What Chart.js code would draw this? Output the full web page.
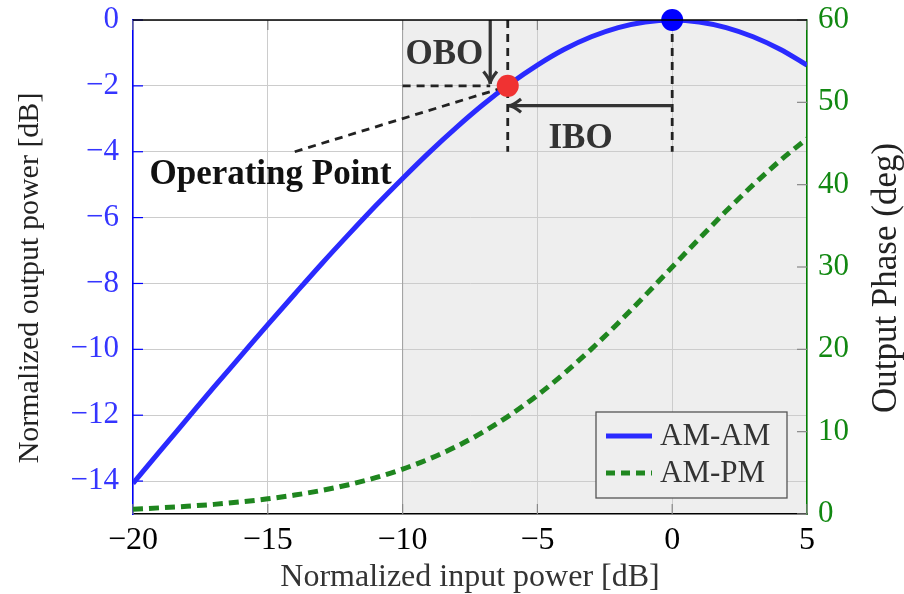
<!DOCTYPE html>
<html>
<head>
<meta charset="utf-8">
<script src="https://cdn.jsdelivr.net/npm/chart.js@4.4.1/dist/chart.umd.min.js"></script>
<style>
  html, body { margin: 0; padding: 0; background: #fff; }
  .chart-container { width: 904px; height: 594px; position: relative; }
</style>
</head>
<body>
<div class="chart-container"><canvas id="amChart"></canvas></div>
<script>
// input power (dB) and the two curves
const inputDb = [-20, -19, -18, -17, -16, -15, -14, -13, -12, -11, -10, -9, -8, -7, -6, -5, -4, -3, -2, -1, 0, 1, 2, 3, 4, 5];
const amAm = [-14.07, -13.09, -12.12, -11.15, -10.20, -9.25, -8.32, -7.40, -6.51, -5.64, -4.81, -4.01, -3.26, -2.56, -1.93, -1.37, -0.89, -0.51, -0.23, -0.06, 0, -0.06, -0.23, -0.51, -0.89, -1.37];
const amPm = [0.59, 0.75, 0.94, 1.17, 1.47, 1.84, 2.30, 2.86, 3.56, 4.42, 5.45, 6.71, 8.21, 9.98, 12.05, 14.42, 17.09, 20.03, 23.21, 26.56, 30.0, 33.44, 36.79, 39.97, 42.92, 45.59];

const seriesNames = ['AM-AM', 'AM-PM'];
const operatingPoint = [{ x: -6.1, y: -2 }];
const saturationPoint = [{ x: 0, y: 0 }];

// annotation anchors, in data units
const shadeFromX = -10;
const oboArrowX = -6.75;
const iboArrowY = -2.6;
const guideBottomY = -4;
const labelLineStart = { x: -14, y: -4 };
const labelLineEnd = { x: -6.45, y: -2.1 };
const oboText = { x: -8.45, y: -1.05, text: 'OBO' };
const iboText = { x: -3.4, y: -3.6, text: 'IBO' };
const opText = { x: -14.9, y: -4.7, text: 'Operating Point' };
const leftTitle = 'Normalized output power [dB]';
const rightTitle = 'Output Phase (deg)';

const blue = '#2a2aff';
const green = '#1f861f';
const serif = "'Liberation Serif', serif";

function minusFmt(v) {
  return v < 0 ? '\u2212' + Math.abs(v) : '' + v;
}

function arrowHead(ctx, x, y, ang) {
  const len = 14, spread = 0.5;
  ctx.beginPath();
  ctx.moveTo(x - len * Math.cos(ang - spread), y - len * Math.sin(ang - spread));
  ctx.quadraticCurveTo(x - 4 * Math.cos(ang), y - 4 * Math.sin(ang), x, y);
  ctx.quadraticCurveTo(x - 4 * Math.cos(ang), y - 4 * Math.sin(ang), x - len * Math.cos(ang + spread), y - len * Math.sin(ang + spread));
  ctx.stroke();
}

function vTitle(ctx, text, x, y, size) {
  ctx.save();
  ctx.translate(x, y);
  ctx.rotate(-Math.PI / 2);
  ctx.font = size + "px " + serif;
  ctx.fillStyle = '#222';
  ctx.textAlign = 'center';
  ctx.textBaseline = 'middle';
  ctx.fillText(text, 0, 0);
  ctx.restore();
}

function fixWidth(w) {
  return s => { s.width = w; s.paddingTop = 0; s.paddingBottom = 0; };
}

const decorPlugin = {
  id: 'decor',
  beforeDraw(chart) {
    const ctx = chart.ctx, ca = chart.chartArea, xs = chart.scales.x;
    ctx.save();
    ctx.fillStyle = '#eeeeee';
    const x0 = xs.getPixelForValue(shadeFromX);
    ctx.fillRect(x0, ca.top, ca.right - x0, ca.bottom - ca.top);
    ctx.restore();
  },
  beforeDatasetsDraw(chart) {
    const ctx = chart.ctx, ca = chart.chartArea;
    const xs = chart.scales.x, ys = chart.scales.y, y2 = chart.scales.y2;
    const px = v => xs.getPixelForValue(v), py = v => ys.getPixelForValue(v);
    ctx.save();
    // boundary of shaded region
    ctx.strokeStyle = '#a0a0a0';
    ctx.lineWidth = 1;
    ctx.beginPath();
    ctx.moveTo(px(shadeFromX), ca.top);
    ctx.lineTo(px(shadeFromX), ca.bottom);
    ctx.stroke();

    // inner tick marks
    ctx.lineWidth = 1.2;
    ctx.strokeStyle = '#888';
    xs.ticks.forEach(t => {
      const x = px(t.value);
      ctx.beginPath();
      ctx.moveTo(x, ca.bottom); ctx.lineTo(x, ca.bottom - 10);
      ctx.moveTo(x, ca.top); ctx.lineTo(x, ca.top + 10);
      ctx.stroke();
    });
    y2.ticks.forEach(t => {
      const y = y2.getPixelForValue(t.value);
      ctx.beginPath();
      ctx.moveTo(ca.right, y); ctx.lineTo(ca.right - 10, y);
      ctx.stroke();
    });
    ctx.strokeStyle = '#0000ff';
    ys.ticks.forEach(t => {
      const y = py(t.value);
      ctx.beginPath();
      ctx.moveTo(ca.left, y); ctx.lineTo(ca.left + 10, y);
      ctx.stroke();
    });

    // dashed guides
    ctx.strokeStyle = '#222';
    ctx.lineWidth = 2.8;
    ctx.setLineDash([8, 6]);
    ctx.beginPath();
    ctx.moveTo(px(shadeFromX), py(operatingPoint[0].y));
    ctx.lineTo(px(oboArrowX), py(operatingPoint[0].y));
    ctx.moveTo(px(operatingPoint[0].x), ca.top);
    ctx.lineTo(px(operatingPoint[0].x), py(guideBottomY));
    ctx.moveTo(px(saturationPoint[0].x), ca.top);
    ctx.lineTo(px(saturationPoint[0].x), py(guideBottomY));
    ctx.moveTo(px(labelLineStart.x), py(labelLineStart.y));
    ctx.lineTo(px(labelLineEnd.x), py(labelLineEnd.y));
    ctx.stroke();
    ctx.setLineDash([]);

    // OBO and IBO arrows
    ctx.strokeStyle = '#333';
    ctx.lineWidth = 3.2;
    ctx.lineCap = 'butt';
    const oboTip = py(operatingPoint[0].y) - 2;
    ctx.beginPath();
    ctx.moveTo(px(oboArrowX), ca.top);
    ctx.lineTo(px(oboArrowX), oboTip);
    ctx.stroke();
    arrowHead(ctx, px(oboArrowX), oboTip, Math.PI / 2);
    const iboTip = px(operatingPoint[0].x) + 1;
    ctx.beginPath();
    ctx.moveTo(px(saturationPoint[0].x), py(iboArrowY));
    ctx.lineTo(iboTip, py(iboArrowY));
    ctx.stroke();
    arrowHead(ctx, iboTip, py(iboArrowY), Math.PI);
    ctx.restore();
  },
  afterDraw(chart) {
    const ctx = chart.ctx, ca = chart.chartArea;
    const xs = chart.scales.x, ys = chart.scales.y;
    ctx.save();
    // top frame line
    ctx.strokeStyle = '#000';
    ctx.lineWidth = 1.5;
    ctx.beginPath();
    ctx.moveTo(ca.left, ca.top); ctx.lineTo(ca.right, ca.top);
    ctx.stroke();

    // text notes
    ctx.textAlign = 'center';
    ctx.textBaseline = 'middle';
    ctx.font = "bold 35px " + serif;
    ctx.fillStyle = '#333';
    [oboText, iboText].forEach(n => ctx.fillText(n.text, xs.getPixelForValue(n.x), ys.getPixelForValue(n.y)));
    ctx.fillStyle = '#111';
    ctx.fillText(opText.text, xs.getPixelForValue(opText.x), ys.getPixelForValue(opText.y));

    // vertical axis titles (both read bottom to top)
    const midY = (ca.top + ca.bottom) / 2 + 11;
    vTitle(ctx, leftTitle, 30, midY, 30);
    vTitle(ctx, rightTitle, 887, midY, 35);

    // legend
    const w = 191, h = 86;
    const bx = ca.right - 20 - w, by = ca.bottom - 16 - h;
    ctx.fillStyle = '#eeeeee';
    ctx.fillRect(bx, by, w, h);
    ctx.strokeStyle = '#555';
    ctx.lineWidth = 1.3;
    ctx.strokeRect(bx, by, w, h);
    const rows = [
      { name: seriesNames[0], color: blue, dash: [] },
      { name: seriesNames[1], color: green, dash: [9, 6] }
    ];
    ctx.font = "31px " + serif;
    ctx.textAlign = 'left';
    rows.forEach((r, i) => {
      const y = by + 24 + i * 37;
      ctx.strokeStyle = r.color;
      ctx.lineWidth = 5;
      ctx.setLineDash(r.dash);
      ctx.beginPath();
      ctx.moveTo(bx + 10, y); ctx.lineTo(bx + 56, y);
      ctx.stroke();
      ctx.setLineDash([]);
      ctx.fillStyle = '#333';
      ctx.fillText(r.name, bx + 64, y + 1);
    });
    ctx.restore();
  }
};

const ctx = document.getElementById('amChart').getContext('2d');
new Chart(ctx, {
  type: 'line',
  data: {
    labels: inputDb,
    datasets: [
      {
        label: 'Operating point',
        data: operatingPoint,
        yAxisID: 'y',
        showLine: false,
        pointRadius: 11,
        pointBackgroundColor: '#f03232',
        pointBorderWidth: 0,
        clip: false
      },
      {
        label: 'Saturation',
        data: saturationPoint,
        yAxisID: 'y',
        showLine: false,
        pointRadius: 11,
        pointBackgroundColor: '#0000ff',
        pointBorderWidth: 0,
        clip: false
      },
      {
        label: seriesNames[0],
        data: inputDb.map((x, i) => ({ x: x, y: amAm[i] })),
        yAxisID: 'y',
        borderColor: blue,
        borderWidth: 5,
        pointRadius: 0,
        cubicInterpolationMode: 'monotone',
        fill: false
      },
      {
        label: seriesNames[1],
        data: inputDb.map((x, i) => ({ x: x, y: amPm[i] })),
        yAxisID: 'y2',
        borderColor: green,
        borderWidth: 5,
        borderDash: [10, 6],
        pointRadius: 0,
        cubicInterpolationMode: 'monotone',
        fill: false
      }
    ]
  },
  options: {
    responsive: true,
    maintainAspectRatio: false,
    animation: false,
    layout: { padding: { top: 20, left: 0, right: 0, bottom: 0 } },
    scales: {
      x: {
        type: 'linear',
        min: -20,
        max: 5,
        afterFit: s => { s.height = 80; s.paddingLeft = 0; s.paddingRight = 0; },
        grid: { color: '#cccccc', drawTicks: false },
        border: { color: '#000', width: 1.5 },
        ticks: {
          stepSize: 5,
          padding: 7,
          color: '#000',
          font: { family: serif, size: 32 },
          callback: minusFmt
        },
        title: {
          display: true,
          text: 'Normalized input power [dB]',
          color: '#333',
          font: { family: serif, size: 32 },
          padding: { top: 0, bottom: -3 }
        }
      },
      y: {
        position: 'left',
        min: -15,
        max: 0,
        afterFit: fixWidth(133),
        grid: { color: '#cccccc', drawTicks: false },
        border: { color: '#0000ff', width: 1.5 },
        ticks: {
          stepSize: 2,
          includeBounds: false,
          padding: 14,
          color: '#3535ff',
          font: { family: serif, size: 31 },
          callback: minusFmt
        }
      },
      y2: {
        position: 'right',
        min: 0,
        max: 60,
        afterFit: fixWidth(97),
        grid: { display: false, drawTicks: false },
        border: { color: '#008000', width: 1.5 },
        ticks: {
          stepSize: 10,
          padding: 11,
          color: '#118811',
          font: { family: serif, size: 31 }
        }
      }
    },
    plugins: {
      legend: { display: false },
      tooltip: { enabled: false }
    }
  },
  plugins: [decorPlugin]
});
</script>
</body>
</html>
